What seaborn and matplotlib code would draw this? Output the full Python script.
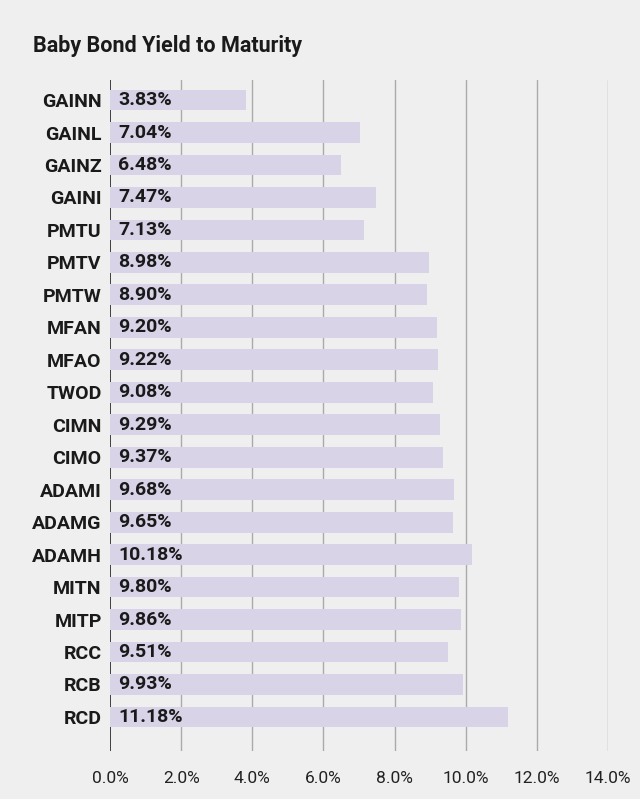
"""
Baby bond yield to maturity - horizontal bar chart
"""
import matplotlib
matplotlib.use("Agg")
import matplotlib.pyplot as plt
import pandas as pd
import seaborn as sns
from matplotlib.ticker import FuncFormatter

tickers = ["GAINN", "GAINL", "GAINZ", "GAINI", "PMTU", "PMTV", "PMTW", "MFAN",
           "MFAO", "TWOD", "CIMN", "CIMO", "ADAMI", "ADAMG", "ADAMH", "MITN",
           "MITP", "RCC", "RCB", "RCD"]
ytm = [3.83, 7.04, 6.48, 7.47, 7.13, 8.98, 8.90, 9.20, 9.22, 9.08, 9.29, 9.37,
       9.68, 9.65, 10.18, 9.80, 9.86, 9.51, 9.93, 11.18]
x_ticks = [0, 2, 4, 6, 8, 10, 12, 14]

df = pd.DataFrame({"ticker": tickers, "ytm": ytm})

BG = "#efefef"
BAR = "#d9d3e8"

sns.set_theme(style="white")
plt.rcParams["font.family"] = ["Roboto", "DejaVu Sans"]

fig = plt.figure(figsize=(6.4, 7.99), dpi=100, facecolor=BG)
ax = fig.add_axes([0.172, 0.06, 0.778, 0.84], facecolor=BG)

# gridlines first, bars on top
for t in x_ticks[1:]:
    ax.axvline(t, color="#aaaaaa", linewidth=1.0, zorder=0)
ax.axvline(0, color="#222222", linewidth=1.2, zorder=0)

sns.barplot(data=df, x="ytm", y="ticker", color=BAR, width=0.64,
            saturation=1, orient="h", ax=ax, zorder=2, linewidth=0,
            edgecolor=BAR)

for i, v in enumerate(ytm):
    ax.text(0.22, i, f"{v:.2f}%", va="center", ha="left", fontsize=14,
            fontweight="bold", color="#1a1a1a", zorder=3)

ax.set_xlim(0, 14)
ax.set_ylim(20.05, -0.62)
ax.set_xticks(x_ticks)
ax.xaxis.set_major_formatter(FuncFormatter(lambda v, _: f"{v:.1f}%"))
ax.tick_params(axis="x", length=0, labelsize=12.5, colors="#222222", pad=14)
ax.tick_params(axis="y", length=0, labelsize=14, pad=6)
for lbl in ax.get_yticklabels():
    lbl.set_fontweight("bold")
    lbl.set_color("#1a1a1a")
ax.set_xlabel("")
ax.set_ylabel("")
for s in ax.spines.values():
    s.set_visible(False)

fig.text(0.052, 0.943, "Baby Bond Yield to Maturity", fontsize=15.5,
         fontweight="bold", color="#1a1a1a", ha="left", va="center")

fig.savefig("out.png", dpi=100, facecolor=BG)
